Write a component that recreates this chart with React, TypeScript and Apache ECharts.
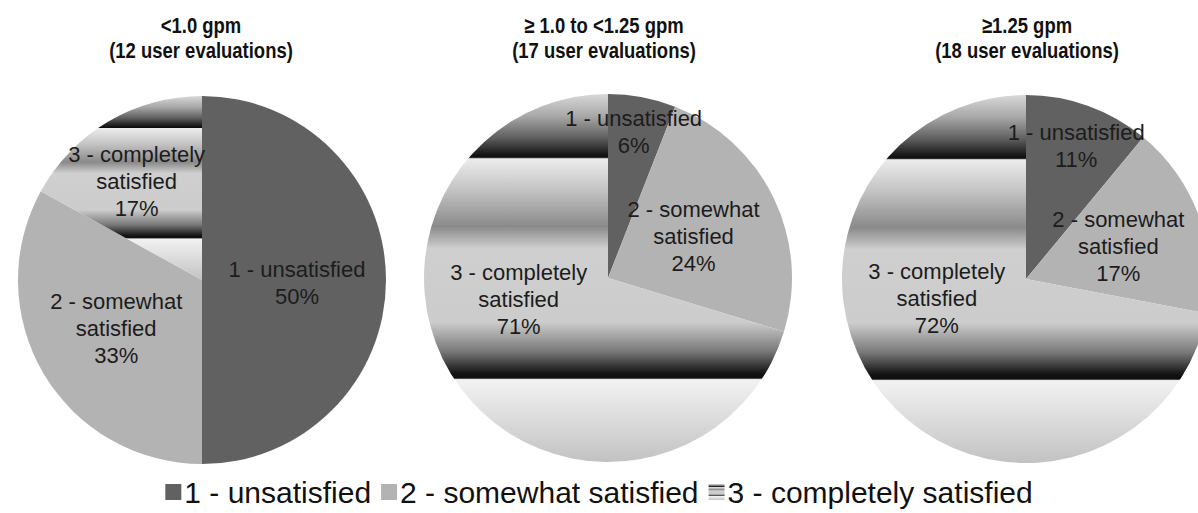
import React, { useEffect, useRef } from "react";
import * as echarts from "echarts";

// ---- data ----
const categories = ["1 - unsatisfied", "2 - somewhat satisfied", "3 - completely satisfied"];
const groupTitles = ["<1.0 gpm", "≥ 1.0 to <1.25 gpm", "≥1.25 gpm"];
const userEvaluations = [12, 17, 18];
const lowFlowPct = [50, 33, 17];
const midFlowPct = [6, 24, 71];
const highFlowPct = [11, 17, 72];

// ---- layout / style ----
const pieCenters = [
  [202, 280],
  [608, 278],
  [1026, 279],
];
const pieRadius = 184;
const labelShifts = [
  [[0, 3], [-4, 0], [-17, -17]],
  [[8, -53], [0, 0], [-13, -35]],
  [[18, -44], [3, 0], [-16, -41]],
];
const titleCenters = [201, 604, 1027];

const bandedFill = {
  type: "linear",
  x: 0,
  y: 0,
  x2: 0,
  y2: 1,
  colorStops: [
    { offset: 0.0, color: "#d8d8d8" },
    { offset: 0.06, color: "#a8a8a8" },
    { offset: 0.12, color: "#5e5e5e" },
    { offset: 0.165, color: "#151515" },
    { offset: 0.172, color: "#0e0e0e" },
    { offset: 0.176, color: "#ececec" },
    { offset: 0.26, color: "#c4c4c4" },
    { offset: 0.36, color: "#8a8a8a" },
    { offset: 0.42, color: "#cfcfcf" },
    { offset: 0.62, color: "#cccccc" },
    { offset: 0.7, color: "#787878" },
    { offset: 0.76, color: "#121212" },
    { offset: 0.772, color: "#0e0e0e" },
    { offset: 0.776, color: "#f2f2f2" },
    { offset: 0.88, color: "#dcdcdc" },
    { offset: 1.0, color: "#c2c2c2" },
  ],
};
const sliceColors = ["#616161", "#b3b3b3", bandedFill];

const sansFont = "'Liberation Sans', Arial, Helvetica, sans-serif";

export default function App() {
  const ref = useRef<HTMLDivElement>(null);

  useEffect(() => {
    document.body.style.margin = "0";
    if (!ref.current) return;
    const chart = echarts.init(ref.current, undefined, { renderer: "svg" });
    const groups = [lowFlowPct, midFlowPct, highFlowPct];

    const series = groups.map((vals, si) => ({
      type: "pie",
      center: pieCenters[si],
      radius: pieRadius,
      startAngle: 90,
      clockwise: true,
      silent: true,
      emphasis: { disabled: true },
      itemStyle: { borderWidth: 0 },
      label: {
        show: true,
        position: "inside",
        fontFamily: sansFont,
        fontSize: 22,
        lineHeight: 27,
        color: "#1c1c1c",
        formatter: (p: any) => `${String(p.name).replace(" satisfied", "\nsatisfied")}\n${p.value}%`,
      },
      labelLine: { show: false },
      labelLayout: (params: any) => {
        const s = labelShifts[si][params.dataIndex] || [0, 0];
        return { dx: s[0], dy: s[1] };
      },
      data: vals.map((v, i) => ({
        name: categories[i],
        value: v,
        itemStyle: { color: sliceColors[i] },
      })),
    }));

    const titles = groupTitles.map((t, i) => ({
      type: "text",
      x: titleCenters[i],
      y: 13,
      scaleX: 0.84,
      silent: true,
      style: {
        text: `${t}\n(${userEvaluations[i]} user evaluations)`,
        fontFamily: sansFont,
        fontWeight: "bold",
        fontSize: 22,
        lineHeight: 25,
        align: "center",
        verticalAlign: "top",
        textAlign: "center",
        textVerticalAlign: "top",
        fill: "#111111",
      },
    }));

    chart.setOption({
      animation: false,
      backgroundColor: "#ffffff",
      graphic: titles,
      legend: {
        data: categories,
        bottom: 1,
        left: "center",
        icon: "rect",
        itemWidth: 16,
        itemHeight: 16,
        itemGap: 10,
        selectedMode: false,
        textStyle: {
          fontFamily: sansFont,
          fontSize: 30,
          color: "#111111",
          padding: [0, 0, 0, -2],
        },
      },
      series,
    });

    return () => chart.dispose();
  }, []);

  return <div ref={ref} style={{ width: 1198, height: 513 }} />;
}
